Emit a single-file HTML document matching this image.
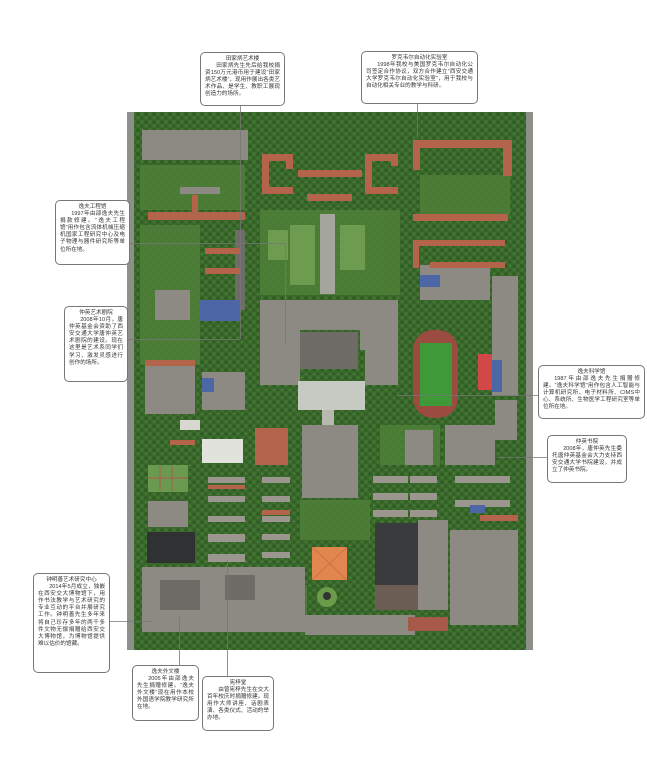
<!DOCTYPE html>
<html><head><meta charset="utf-8"><style>
html,body{margin:0;padding:0;background:#fff;}
body{width:647px;height:768px;position:relative;overflow:hidden;font-family:"Liberation Sans","Noto Sans CJK SC",sans-serif;}
.b{position:absolute;background:#fff;border:1px solid #777;border-radius:5px;box-sizing:border-box;font-size:5.6px;line-height:7.1px;color:#333;padding:3px 4px;text-align:justify;}
.b .t{text-align:center;display:block;}
.b .i{text-indent:2em;}
svg{position:absolute;left:0;top:0;}
</style></head><body>
<svg width="647" height="768" viewBox="0 0 647 768">
<defs>
<pattern id="tr" width="8" height="8" patternUnits="userSpaceOnUse">
<circle cx="2" cy="2" r="1.8" fill="#2a5220" opacity="0.6"/>
<circle cx="6" cy="6" r="1.6" fill="#2a5220" opacity="0.5"/>
<circle cx="6" cy="1.5" r="1" fill="#6a9a4a" opacity="0.5"/>
<circle cx="2" cy="6" r="1" fill="#6a9a4a" opacity="0.4"/>
</pattern>
</defs>
<rect x="127" y="112" width="406" height="538" fill="#3a6a2c"/>
<rect x="127" y="112" width="406" height="538" fill="url(#tr)"/>
<rect x="127" y="112" width="7" height="538" fill="#8c9088"/>
<rect x="526" y="112" width="7" height="538" fill="#8c9088"/>
<g fill="#4f8038" opacity="0.85">
<rect x="140" y="165" width="105" height="45"/>
<rect x="260" y="210" width="140" height="85"/>
<rect x="420" y="175" width="90" height="40"/>
<rect x="140" y="225" width="60" height="140"/>
<rect x="380" y="425" width="60" height="40"/>
<rect x="262" y="585" width="45" height="40"/>
<rect x="300" y="500" width="70" height="40"/>
<rect x="445" y="270" width="40" height="30"/>
</g>
<g fill="#6d9c50">
<rect x="290" y="225" width="25" height="60"/>
<rect x="340" y="225" width="25" height="45"/>
<rect x="268" y="230" width="20" height="30"/>
</g>
<g fill="#8d8a84">
<rect x="142" y="130" width="106" height="30"/>
<rect x="180" y="187" width="40" height="7"/>
<rect x="260" y="300" width="40" height="85"/>
<rect x="300" y="300" width="60" height="30"/>
<rect x="360" y="300" width="38" height="50"/>
<rect x="365" y="350" width="33" height="35"/>
<rect x="145" y="365" width="50" height="49"/>
<rect x="202" y="372" width="43" height="38"/>
<rect x="155" y="290" width="35" height="30"/>
<rect x="302" y="425" width="56" height="73"/>
<rect x="405" y="430" width="28" height="35"/>
<rect x="445" y="425" width="50" height="40"/>
<rect x="492" y="276" width="26" height="120"/>
<rect x="495" y="400" width="22" height="40"/>
<rect x="148" y="501" width="40" height="26"/>
<rect x="142" y="567" width="163" height="65"/>
<rect x="418" y="520" width="30" height="90"/>
<rect x="450" y="530" width="68" height="95"/>
<rect x="420" y="265" width="70" height="35"/>
<rect x="305" y="615" width="110" height="20"/>
</g>
<g fill="#6f6c68">
<rect x="300" y="332" width="58" height="37"/>
<rect x="235" y="230" width="10" height="80"/>
<rect x="160" y="580" width="40" height="30"/>
<rect x="225" y="575" width="30" height="25"/>
</g>
<g fill="#9b968e">
<rect x="208" y="477" width="37" height="6"/><rect x="208" y="496" width="37" height="6"/><rect x="208" y="516" width="37" height="6"/><rect x="208" y="534" width="37" height="8"/><rect x="208" y="554" width="37" height="8"/>
<rect x="262" y="477" width="28" height="6"/><rect x="262" y="496" width="28" height="6"/><rect x="262" y="516" width="28" height="6"/><rect x="262" y="534" width="28" height="6"/><rect x="262" y="552" width="28" height="6"/>
<rect x="373" y="476" width="35" height="7"/><rect x="373" y="493" width="35" height="7"/><rect x="373" y="510" width="35" height="7"/>
<rect x="410" y="476" width="27" height="7"/><rect x="410" y="493" width="27" height="7"/><rect x="410" y="510" width="27" height="7"/>
<rect x="455" y="476" width="55" height="7"/><rect x="455" y="500" width="55" height="7"/>
</g>
<g fill="#b5644c">
<rect x="148" y="212" width="97" height="8"/>
<rect x="192" y="195" width="6" height="18"/>
<rect x="262" y="154" width="31" height="7"/><rect x="262" y="154" width="7" height="40"/><rect x="262" y="187" width="31" height="7"/><rect x="286" y="154" width="7" height="15"/>
<rect x="365" y="154" width="33" height="7"/><rect x="365" y="154" width="7" height="40"/><rect x="365" y="187" width="33" height="7"/><rect x="391" y="154" width="7" height="12"/>
<rect x="298" y="170" width="64" height="7"/>
<rect x="307" y="194" width="45" height="7"/>
<rect x="413" y="140" width="99" height="8"/><rect x="413" y="140" width="7" height="30"/><rect x="503" y="147" width="9" height="29"/>
<rect x="413" y="214" width="95" height="7"/>
<rect x="413" y="240" width="92" height="6"/><rect x="413" y="240" width="6" height="28"/><rect x="430" y="262" width="75" height="6"/>
<rect x="205" y="248" width="35" height="6"/><rect x="205" y="268" width="35" height="6"/>
<rect x="145" y="360" width="50" height="6"/>
<rect x="255" y="428" width="33" height="37"/>
<rect x="170" y="440" width="25" height="5"/>
<rect x="208" y="485" width="37" height="4"/><rect x="262" y="510" width="28" height="5"/>
<rect x="480" y="515" width="38" height="6"/>
</g>
<g fill="#4d67a6">
<rect x="200" y="300" width="40" height="21"/>
<rect x="492" y="360" width="10" height="32"/>
<rect x="420" y="275" width="20" height="12"/>
<rect x="202" y="378" width="12" height="14"/>
<rect x="470" y="505" width="15" height="8"/>
</g>
<rect x="298" y="381" width="67" height="29" fill="#c7cac2"/>
<rect x="320" y="214" width="15" height="80" fill="#a4a59c"/>
<rect x="322" y="410" width="12" height="15" fill="#b7b8b0"/>
<rect x="413" y="330" width="45" height="88" rx="20" fill="#9a4c40"/>
<rect x="420" y="343" width="32" height="63" fill="#3e9a38"/>
<rect x="478" y="354" width="14" height="36" fill="#d24848"/>
<rect x="202" y="439" width="41" height="24" fill="#e2e2dc"/>
<rect x="180" y="420" width="20" height="10" fill="#d8d8d0"/>
<rect x="148" y="465" width="40" height="27" fill="#6a9a50"/>
<g stroke="#b2574a" stroke-width="1"><line x1="160" y1="466" x2="160" y2="491"/><line x1="172" y1="466" x2="172" y2="491"/><line x1="148" y1="478" x2="188" y2="478"/></g>
<rect x="147" y="532" width="48" height="31" fill="#2f3133"/>
<rect x="375" y="523" width="43" height="62" fill="#393b3d"/>
<rect x="375" y="585" width="43" height="25" fill="#6d5e55"/>
<rect x="312" y="547" width="35" height="33" fill="#e0864e"/>
<path d="M312 547L347 580M347 547L312 580" stroke="#c46a3a" stroke-width="0.6"/>
<circle cx="327" cy="597" r="10" fill="#6a9a4a"/><circle cx="327" cy="596" r="4" fill="#333"/>
<rect x="408" y="617" width="40" height="14" fill="#a85a4a"/>
<g stroke="#777" stroke-width="0.8" fill="none">
<line x1="240.5" y1="106" x2="240.5" y2="339"/>
<line x1="128" y1="339.5" x2="240" y2="339.5"/>
<polyline points="130,243.5 285.5,243.5 285.5,345"/>
<line x1="417.5" y1="104" x2="417.5" y2="139"/>
<line x1="397" y1="395.5" x2="538" y2="395.5"/>
<line x1="497" y1="457.5" x2="547" y2="457.5"/>
<line x1="110" y1="621.5" x2="152" y2="621.5"/>
<line x1="179.5" y1="617" x2="179.5" y2="665"/>
<line x1="227.5" y1="560" x2="227.5" y2="676"/>
</g>
</svg>

<div class="b" style="left:200px;top:52px;width:85px;height:54px;"><span class="t">田家炳艺术楼</span><span class="i" style="display:block">田家炳先生先后给我校捐资150万元港币用于建设“田家炳艺术楼”，现用作展出各类艺术作品、是学生、教职工展现创造力的场所。</span></div>
<div class="b" style="left:361px;top:51px;width:117px;height:53px;"><span class="t">罗克韦尔自动化实验室</span><span class="i" style="display:block">1998年我校与美国罗克韦尔自动化公司签定合作协议，双方合作建立“西安交通大学罗克韦尔自动化实验室”，用于我校与自动化相关专业的教学与科研。</span></div>
<div class="b" style="left:55px;top:200px;width:75px;height:65px;"><span class="t">逸夫工程馆</span><span class="i" style="display:block">1997年由邵逸夫先生捐款修建。“逸夫工程馆”用作包含流体机械压缩机国家工程研究中心及电子物理与器件研究所等单位所在地。</span></div>
<div class="b" style="left:64px;top:306px;width:64px;height:76px;"><span class="t">仲英艺术剧院</span><span class="i" style="display:block">2008年10月，唐仲英基金会资助了西安交通大学唐仲英艺术剧院的建设。现在这里是艺术系同学们学习、激发灵感进行创作的场所。</span></div>
<div class="b" style="left:538px;top:365px;width:107px;height:54px;"><span class="t">逸夫科学馆</span><span class="i" style="display:block">1987年由邵逸夫先生捐赠修建。“逸夫科学馆”用作包含人工智能与计算机研究所、电子材料所、CIMS中心、系统所、生物医学工程研究室等单位所在地。</span></div>
<div class="b" style="left:547px;top:435px;width:80px;height:48px;"><span class="t">仲英书院</span><span class="i" style="display:block">2008年，唐仲英先生委托唐仲英基金会大力支持西安交通大学书院建设，并成立了仲英书院。</span></div>
<div class="b" style="left:33px;top:573px;width:77px;height:100px;"><span class="t">钟明善艺术研究中心</span><span class="i" style="display:block">2014年5月成立，独嵌在西安交大博物馆下，用作书法教学与艺术研究的专业互动的平台并展研究工作。钟明善先生多年来将自己珍存多年的两千多件文物无偿捐赠给西安交大博物馆，为博物馆提供难以估价的馆藏。</span></div>
<div class="b" style="left:132px;top:665px;width:67px;height:56px;"><span class="t">逸夫外文楼</span><span class="i" style="display:block">2005年由邵逸夫先生捐赠修建。“逸夫外文楼”现在用作本校外国语学院教学研究所在地。</span></div>
<div class="b" style="left:202px;top:676px;width:72px;height:55px;"><span class="t">宪梓堂</span><span class="i" style="display:block">由曾宪梓先生在交大百年校庆时捐赠修建。现用作大师讲座、话剧表演、各类仪式、活动的举办地。</span></div>
</body></html>
